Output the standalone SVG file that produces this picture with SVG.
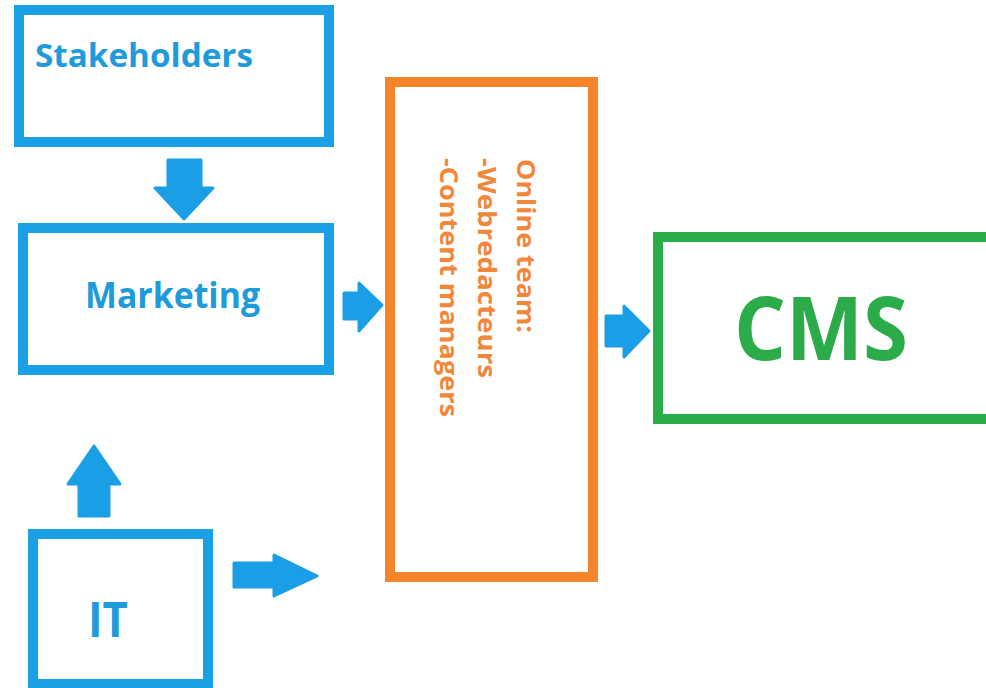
<svg xmlns="http://www.w3.org/2000/svg" width="986" height="688" viewBox="0 0 986 688">
  <style>
    .box { fill: #ffffff; stroke-width: 10; }
    .blue { stroke: #1ba0e5; }
    .orange { stroke: #f5842b; }
    .green { stroke: #27ae4b; }
    .lbl { font-family: "Open Sans", "Noto Sans", "DejaVu Sans", sans-serif; font-weight: bold; }
    .lbl-blue { fill: #1f9bdc; }
    .lbl-orange { fill: #f1873a; }
    .lbl-green { fill: #2bab4a; }
    .arrow { fill: #1a9ee6; stroke: #1a9ee6; stroke-width: 3; stroke-linejoin: round; }
  </style>
  <rect width="986" height="688" fill="#ffffff"/>

  <g id="stakeholders">
    <rect class="box blue" x="19" y="10" width="310" height="132"/>
    <text class="lbl lbl-blue" x="35" y="67" font-size="33" textLength="218" lengthAdjust="spacingAndGlyphs">Stakeholders</text>
  </g>

  <g id="marketing">
    <rect class="box blue" x="23" y="228" width="306" height="142"/>
    <text class="lbl lbl-blue" x="85" y="308" font-size="36" textLength="175" lengthAdjust="spacingAndGlyphs">Marketing</text>
  </g>

  <g id="it">
    <rect class="box blue" x="33" y="534" width="175" height="150"/>
    <text class="lbl lbl-blue" x="88" y="637" font-size="49" textLength="40" lengthAdjust="spacingAndGlyphs">IT</text>
  </g>

  <g id="online-team">
    <rect class="box orange" x="390" y="82" width="203" height="495"/>
    <g class="lbl lbl-orange" font-size="25">
      <text transform="translate(517,159) rotate(90)" textLength="174" lengthAdjust="spacingAndGlyphs">Online team:</text>
      <text transform="translate(478,158) rotate(90)" textLength="220" lengthAdjust="spacingAndGlyphs">-Webredacteurs</text>
      <text transform="translate(440,158) rotate(90)" textLength="259" lengthAdjust="spacingAndGlyphs">-Content managers</text>
    </g>
  </g>

  <g id="cms">
    <rect class="box green" x="658" y="237" width="360" height="182"/>
    <text class="lbl lbl-green" x="734" y="360" font-size="87" textLength="174" lengthAdjust="spacingAndGlyphs">CMS</text>
  </g>

  <g id="connectors">
    <!-- Stakeholders to Marketing -->
    <polygon class="arrow" points="168,160 201,160 201,188 213,188 184,219 155,188 168,188"/>
    <!-- IT up to Marketing -->
    <polygon class="arrow" points="79,516 109,516 109,484 120,484 94,446 68,484 79,484"/>
    <!-- Marketing to Online team -->
    <polygon class="arrow" points="344,293 359,293 359,283 382,305 359,331 359,319 344,319"/>
    <!-- IT to Online team -->
    <polygon class="arrow" points="234,563 274,563 274,555 317,576 274,596 274,587 234,587"/>
    <!-- Online team to CMS -->
    <polygon class="arrow" points="606,316 624,316 624,306 649,331 624,357 624,346 606,346"/>
  </g>
</svg>
